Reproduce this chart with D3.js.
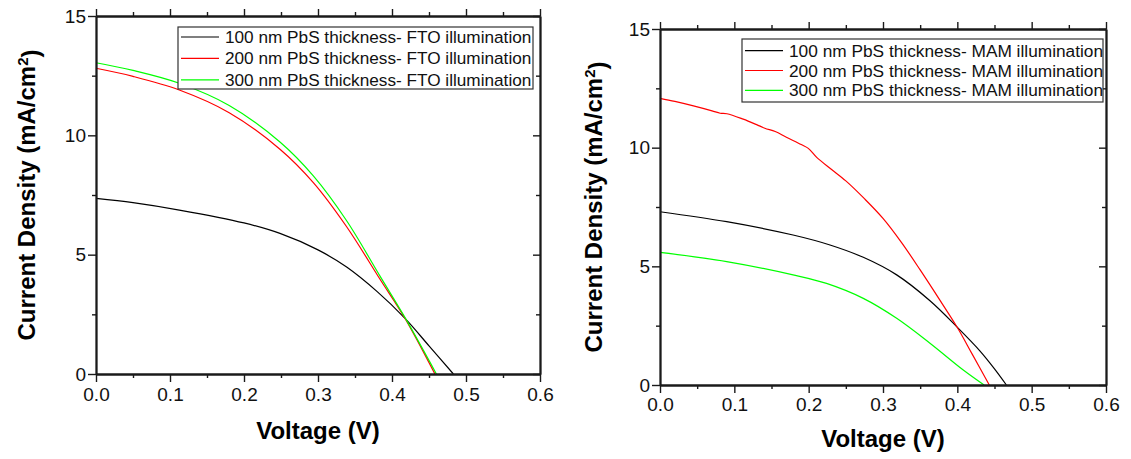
<!DOCTYPE html>
<html>
<head>
<meta charset="utf-8">
<script src="https://cdn.jsdelivr.net/npm/d3@7"></script>
<style>
  html, body { margin: 0; padding: 0; background: #fff; }
  svg { display: block; font-family: "Liberation Sans", Arial, sans-serif; }
</style>
</head>
<body>
<svg id="chart" width="1131" height="459"></svg>
<script>
// J–V curves of PbS cells, voltage in V, current density in mA/cm²

// FTO-side illumination
const fto100V = [0, 0.05, 0.1126, 0.20, 0.2486, 0.30, 0.3387, 0.38, 0.4176, 0.45, 0.483];
const fto100J = [7.36, 7.18, 6.87, 6.33, 5.89, 5.20, 4.48, 3.45, 2.33, 1.18, 0];
const fto200V = [0, 0.05, 0.1126, 0.18, 0.2486, 0.2937, 0.3387, 0.3838, 0.4176, 0.458];
const fto200J = [12.81, 12.47, 11.90, 10.95, 9.42, 8.02, 6.17, 3.97, 2.33, 0];
const fto300V = [0, 0.05, 0.1126, 0.18, 0.2486, 0.2937, 0.3387, 0.3838, 0.4176, 0.46];
const fto300J = [13.04, 12.72, 12.18, 11.25, 9.72, 8.30, 6.42, 4.10, 2.36, 0];

// MAM-side illumination
const mam100V = [0, 0.0897, 0.179, 0.2287, 0.2735, 0.3184, 0.3632, 0.3991, 0.43, 0.45, 0.466];
const mam100J = [7.30, 6.88, 6.32, 5.90, 5.38, 4.64, 3.55, 2.46, 1.45, 0.68, 0];
const mam200V = [0, 0.02, 0.045, 0.07, 0.081, 0.09, 0.112, 0.13, 0.141, 0.155, 0.17, 0.19, 0.1995, 0.2108,
                 0.23, 0.25, 0.275, 0.30, 0.325, 0.35, 0.375, 0.40, 0.42, 0.443];
const mam200J = [12.08, 11.95, 11.76, 11.55, 11.45, 11.43, 11.20, 10.97, 10.82, 10.68, 10.44, 10.13, 9.97, 9.59,
                 9.10, 8.60, 7.85, 7.02, 6.00, 4.85, 3.65, 2.42, 1.30, 0];
const mam300V = [0, 0.0897, 0.179, 0.224, 0.2735, 0.3184, 0.3632, 0.408, 0.436];
const mam300J = [5.59, 5.20, 4.64, 4.28, 3.65, 2.81, 1.76, 0.63, 0];

const xMajorTicks = [0, 0.1, 0.2, 0.3, 0.4, 0.5, 0.6];
const xMinorTicks = [0.05, 0.15, 0.25, 0.35, 0.45, 0.55];
const yMajorTicks = [0, 5, 10, 15];
const yMinorTicks = [2.5, 7.5, 12.5];

const ftoLabels = [
  "100 nm PbS thickness- FTO illumination",
  "200 nm PbS thickness- FTO illumination",
  "300 nm PbS thickness- FTO illumination"
];
const mamLabels = [
  "100 nm PbS thickness- MAM illumination",
  "200 nm PbS thickness- MAM illumination",
  "300 nm PbS thickness- MAM illumination"
];
const seriesColors = ["#000000", "#ff0000", "#00ff00"];

const svg = d3.select("#chart");
svg.append("rect").attr("width", 1131).attr("height", 459).attr("fill", "#fff");

function drawPanel(p) {
  const x = d3.scaleLinear().domain([0, 0.6]).range([p.left, p.right]);
  const y = d3.scaleLinear().domain([0, 15]).range([p.bottom, p.top]);
  const g = svg.append("g");

  // curves
  const line = d3.line().x(d => x(d[0])).y(d => y(d[1])).curve(d3.curveCatmullRom.alpha(0.5));
  p.series.forEach((s, i) => {
    const pts = s.v.map((v, k) => [v, s.j[k]]);
    g.append("path")
      .datum(pts)
      .attr("fill", "none")
      .attr("stroke", seriesColors[i])
      .attr("stroke-width", 1.2)
      .attr("d", line);
  });

  const axisColor = "#1a1a1a";
  const styleAxis = sel => {
    sel.select(".domain").attr("stroke", axisColor).attr("stroke-width", 1.8);
    sel.selectAll(".tick line").attr("stroke", axisColor).attr("stroke-width", 1.4);
    sel.selectAll(".tick text").attr("fill", "#111").style("font-size", "19px")
       .style("font-family", "'Liberation Sans', Arial, sans-serif");
  };

  // bottom
  g.append("g").attr("transform", `translate(0,${p.bottom})`)
    .call(d3.axisBottom(x).tickValues(xMajorTicks).tickSize(8).tickSizeOuter(0)
      .tickPadding(p.xPad).tickFormat(d3.format(".1f")))
    .call(styleAxis);
  g.append("g").attr("transform", `translate(0,${p.bottom})`)
    .call(d3.axisBottom(x).tickValues(xMinorTicks).tickSize(4).tickSizeOuter(0).tickFormat(""))
    .call(styleAxis);
  // top
  g.append("g").attr("transform", `translate(0,${p.top})`)
    .call(d3.axisTop(x).tickValues(xMajorTicks).tickSize(7).tickSizeOuter(0).tickFormat(""))
    .call(styleAxis);
  g.append("g").attr("transform", `translate(0,${p.top})`)
    .call(d3.axisTop(x).tickValues(xMinorTicks).tickSize(4).tickSizeOuter(0).tickFormat(""))
    .call(styleAxis);
  // left
  g.append("g").attr("transform", `translate(${p.left},0)`)
    .call(d3.axisLeft(y).tickValues(yMajorTicks).tickSize(8).tickSizeOuter(0).tickPadding(2))
    .call(styleAxis);
  g.append("g").attr("transform", `translate(${p.left},0)`)
    .call(d3.axisLeft(y).tickValues(yMinorTicks).tickSize(4).tickSizeOuter(0).tickFormat(""))
    .call(styleAxis);
  // right (ticks pointing inward)
  g.append("g").attr("transform", `translate(${p.right},0)`)
    .call(d3.axisLeft(y).tickValues(yMajorTicks).tickSize(7).tickSizeOuter(0).tickFormat(""))
    .call(styleAxis);
  g.append("g").attr("transform", `translate(${p.right},0)`)
    .call(d3.axisLeft(y).tickValues(yMinorTicks).tickSize(4).tickSizeOuter(0).tickFormat(""))
    .call(styleAxis);

  // axis titles
  g.append("text")
    .attr("x", (p.left + p.right) / 2).attr("y", p.xTitleY)
    .attr("text-anchor", "middle")
    .style("font-size", "24px").style("font-weight", "bold").attr("fill", "#000")
    .text("Voltage (V)");

  const yt = g.append("text")
    .attr("transform", `translate(${p.yTitleX},${(p.top + p.bottom) / 2}) rotate(-90)`)
    .attr("text-anchor", "middle")
    .style("font-size", "24px").style("font-weight", "bold").attr("fill", "#000");
  yt.append("tspan").text("Current Density (mA/cm");
  yt.append("tspan").attr("dy", "-0.45em").style("font-size", "15px").text("2");
  yt.append("tspan").attr("dy", "0.45em").text(")");

  // legend
  const lg = p.legend;
  g.append("rect")
    .attr("x", lg.x0).attr("y", lg.y0)
    .attr("width", lg.x1 - lg.x0).attr("height", lg.y1 - lg.y0)
    .attr("fill", "#fff").attr("stroke", "#333").attr("stroke-width", 1.2);
  p.labels.forEach((lab, i) => {
    const cy = lg.row0 + i * lg.step;
    g.append("line")
      .attr("x1", lg.lineX0).attr("x2", lg.lineX1).attr("y1", cy).attr("y2", cy)
      .attr("stroke", seriesColors[i]).attr("stroke-width", 1.2);
    g.append("text")
      .attr("x", lg.textX).attr("y", cy + 6)
      .style("font-size", lg.fontSize).attr("fill", "#111")
      .text(lab);
  });
}

drawPanel({
  left: 96, right: 540, top: 16, bottom: 374,
  xPad: 6, xTitleY: 439, yTitleX: 35,
  series: [
    { v: fto100V, j: fto100J },
    { v: fto200V, j: fto200J },
    { v: fto300V, j: fto300J }
  ],
  labels: ftoLabels,
  legend: { x0: 178, x1: 533, y0: 27, y1: 89, row0: 37, step: 21.4,
            lineX0: 181, lineX1: 219, textX: 225, fontSize: "17.2px" }
});

drawPanel({
  left: 660, right: 1106, top: 29, bottom: 385,
  xPad: 5, xTitleY: 447, yTitleX: 602,
  series: [
    { v: mam100V, j: mam100J },
    { v: mam200V, j: mam200J },
    { v: mam300V, j: mam300J }
  ],
  labels: mamLabels,
  legend: { x0: 742, x1: 1103, y0: 39, y1: 102, row0: 50.7, step: 19.8,
            lineX0: 745, lineX1: 783, textX: 789, fontSize: "17.3px" }
});
</script>
</body>
</html>
